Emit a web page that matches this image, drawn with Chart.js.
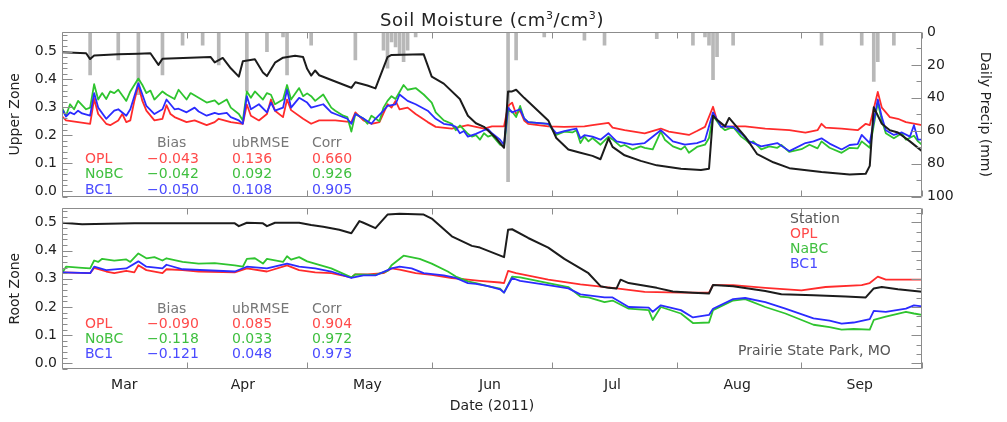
<!DOCTYPE html>
<html>
<head>
<meta charset="utf-8">
<script src="https://cdn.jsdelivr.net/npm/chart.js@4.4.1/dist/chart.umd.min.js"></script>
<style>
  html, body { margin: 0; padding: 0; background: #fff; }
  #wrap { position: relative; width: 1007px; height: 422px; overflow: hidden; font-family: "DejaVu Sans", sans-serif; }
  canvas { position: absolute; left: 0; }
  #cU { top: 0; }
  #cR { top: 195px; }
  .t { position: absolute; font-size: 14px; line-height: 1; white-space: nowrap; transform: translateY(-50%); }
  .hd { color: #777; }
  .opl { color: #ff4a4a; }
  .nobc { color: #3fbf3f; }
  .bc1 { color: #4a4aff; }
  .st { color: #555; }
  #title { position: absolute; left: 62px; width: 860px; top: 9px; text-align: center; font-size: 18px; color: #222; letter-spacing: 0.6px; }
  #title sup { font-size: 11px; }
</style>
</head>
<body>
<div id="wrap">
  <canvas id="cU" width="1007" height="210"></canvas>
  <canvas id="cR" width="1007" height="227"></canvas>
  <div id="title">Soil Moisture (cm<sup>3</sup>/cm<sup>3</sup>)</div>
  <div id="notes"></div>
</div>
<script>
  // eje x: dias desde el 1 de marzo de 2011
  const monthNames = ["Mar", "Apr", "May", "Jun", "Jul", "Aug", "Sep"];
  const monthStarts = [0, 31, 61, 92, 122, 153, 184, 214];
  const monthMids = [15.5, 45, 76, 106.5, 137, 168, 198.5];

  // precipitacion diaria (mm)
  const precipDays = [7, 14, 19, 25, 30, 35, 39, 46, 51, 55, 56, 62, 73, 80, 81, 82, 83, 84, 85, 86, 88, 111, 113, 120, 130, 135, 148, 157, 160, 161, 162, 163, 167, 189, 199, 202, 203, 207];
  const precipMm = [26, 17, 38, 26, 8, 8, 20, 36, 12, 3, 26, 8, 17, 11, 22, 6, 9, 14, 18, 11, 3, 91, 17, 3, 5, 8, 4, 8, 3, 8, 29, 15, 8, 8, 8, 30, 18, 8];

  // zona superior [dia, humedad]
  const stationUpper = [[0,0.497],[6,0.494],[7,0.473],[8,0.486],[14,0.49],[19,0.492],[22,0.494],[24,0.452],[25,0.474],[37,0.48],[38,0.461],[40,0.477],[42,0.44],[44,0.41],[45,0.465],[48,0.472],[50,0.425],[51,0.412],[53,0.46],[55,0.478],[58,0.485],[60,0.48],[61,0.438],[62,0.414],[63,0.432],[64,0.415],[72,0.37],[73,0.39],[76,0.378],[78,0.368],[81,0.48],[82,0.488],[90,0.49],[92,0.41],[95,0.385],[99,0.33],[101,0.27],[103,0.243],[105,0.23],[108,0.19],[110,0.155],[111,0.357],[112,0.357],[113,0.363],[115,0.334],[121,0.253],[123,0.19],[126,0.149],[129,0.137],[132,0.126],[134,0.114],[136,0.189],[137,0.158],[140,0.128],[144,0.108],[148,0.092],[154,0.08],[159,0.075],[161,0.08],[162,0.27],[163,0.255],[165,0.232],[166,0.262],[167,0.245],[170,0.195],[173,0.132],[177,0.103],[181,0.082],[189,0.068],[196,0.059],[200,0.062],[201,0.09],[202,0.3],[204,0.241],[206,0.218],[208,0.21],[211,0.178],[214,0.143]];
  const oplUpper = [[0,0.268],[1,0.253],[7,0.241],[8,0.33],[9,0.276],[11,0.241],[12,0.236],[14,0.253],[15,0.276],[16,0.247],[17,0.253],[18,0.323],[19,0.38],[20,0.323],[21,0.288],[23,0.253],[25,0.259],[26,0.308],[27,0.276],[28,0.265],[31,0.247],[33,0.253],[36,0.236],[38,0.247],[39,0.259],[42,0.247],[45,0.241],[46,0.31],[47,0.27],[49,0.253],[51,0.276],[52,0.328],[53,0.288],[55,0.265],[56,0.328],[57,0.29],[60,0.259],[62,0.241],[64,0.253],[68,0.253],[72,0.247],[73,0.282],[75,0.253],[77,0.241],[79,0.247],[81,0.311],[82,0.299],[83,0.323],[84,0.293],[86,0.299],[88,0.276],[91,0.247],[93,0.23],[97,0.224],[101,0.236],[105,0.224],[107,0.232],[110,0.232],[111,0.305],[112,0.317],[113,0.276],[114,0.288],[115,0.253],[116,0.241],[121,0.232],[125,0.23],[130,0.232],[132,0.236],[136,0.244],[137,0.227],[140,0.218],[145,0.207],[149,0.224],[151,0.213],[156,0.201],[158,0.215],[160,0.23],[162,0.302],[163,0.253],[165,0.23],[167,0.232],[170,0.232],[175,0.224],[181,0.218],[185,0.209],[188,0.218],[189,0.241],[190,0.227],[194,0.224],[198,0.218],[200,0.241],[201,0.236],[203,0.355],[204,0.299],[206,0.265],[208,0.259],[210,0.247],[214,0.236]];
  const nobcUpper = [[0,0.299],[1,0.27],[2,0.311],[3,0.293],[4,0.323],[6,0.293],[7,0.299],[8,0.383],[9,0.328],[10,0.351],[11,0.33],[12,0.357],[13,0.351],[14,0.363],[16,0.323],[17,0.357],[19,0.403],[20,0.38],[21,0.351],[22,0.36],[23,0.328],[25,0.357],[26,0.346],[28,0.33],[29,0.363],[31,0.328],[32,0.351],[34,0.334],[36,0.317],[38,0.325],[39,0.311],[41,0.328],[42,0.299],[44,0.276],[45,0.253],[46,0.357],[47,0.334],[48,0.357],[50,0.328],[51,0.351],[52,0.345],[53,0.311],[55,0.328],[56,0.38],[57,0.328],[59,0.369],[60,0.34],[61,0.35],[62,0.34],[63,0.323],[65,0.346],[67,0.299],[68,0.288],[70,0.27],[71,0.265],[72,0.213],[73,0.276],[75,0.26],[76,0.241],[77,0.27],[79,0.25],[80,0.299],[81,0.323],[82,0.34],[83,0.33],[85,0.38],[86,0.363],[88,0.369],[90,0.346],[92,0.317],[93,0.282],[95,0.253],[97,0.241],[98,0.218],[99,0.235],[101,0.205],[102,0.195],[103,0.2],[104,0.184],[105,0.207],[106,0.195],[107,0.2],[109,0.166],[110,0.16],[111,0.288],[112,0.285],[113,0.265],[114,0.305],[115,0.259],[116,0.247],[121,0.241],[123,0.201],[125,0.213],[127,0.21],[128,0.218],[129,0.172],[130,0.195],[131,0.178],[132,0.19],[134,0.166],[136,0.195],[137,0.185],[139,0.16],[140,0.165],[142,0.149],[144,0.16],[145,0.155],[147,0.149],[149,0.213],[150,0.184],[152,0.16],[154,0.149],[155,0.16],[156,0.137],[158,0.158],[160,0.166],[161,0.19],[162,0.27],[164,0.23],[165,0.218],[167,0.23],[169,0.195],[170,0.185],[171,0.172],[172,0.178],[174,0.149],[176,0.16],[178,0.155],[179,0.165],[181,0.14],[184,0.15],[186,0.166],[188,0.153],[189,0.178],[191,0.155],[194,0.137],[196,0.155],[198,0.153],[199,0.178],[201,0.155],[203,0.317],[204,0.253],[205,0.207],[207,0.189],[209,0.207],[210,0.184],[212,0.198],[213,0.178],[214,0.166]];
  const bc1Upper = [[0,0.293],[1,0.267],[2,0.282],[3,0.275],[4,0.288],[5,0.278],[7,0.27],[8,0.351],[9,0.299],[11,0.259],[13,0.288],[14,0.293],[16,0.27],[17,0.293],[19,0.386],[20,0.346],[21,0.305],[23,0.276],[25,0.293],[26,0.328],[28,0.293],[29,0.295],[31,0.282],[33,0.299],[34,0.285],[36,0.27],[38,0.28],[39,0.276],[41,0.28],[42,0.265],[44,0.253],[45,0.241],[46,0.34],[47,0.293],[49,0.311],[51,0.282],[52,0.317],[53,0.288],[55,0.299],[56,0.363],[57,0.299],[59,0.334],[61,0.317],[62,0.299],[65,0.311],[67,0.282],[68,0.276],[71,0.259],[72,0.241],[73,0.276],[75,0.26],[77,0.241],[78,0.259],[80,0.288],[81,0.305],[83,0.311],[84,0.346],[86,0.323],[88,0.311],[91,0.288],[93,0.259],[95,0.241],[97,0.236],[98,0.23],[99,0.207],[100,0.215],[101,0.195],[103,0.205],[105,0.218],[106,0.222],[107,0.207],[109,0.184],[110,0.166],[111,0.299],[112,0.282],[114,0.293],[115,0.26],[116,0.247],[121,0.241],[123,0.207],[125,0.215],[128,0.224],[129,0.189],[130,0.2],[132,0.195],[134,0.184],[136,0.207],[138,0.178],[142,0.166],[145,0.172],[149,0.218],[152,0.178],[155,0.166],[158,0.172],[160,0.182],[162,0.282],[164,0.23],[165,0.232],[167,0.23],[169,0.207],[171,0.178],[174,0.16],[178,0.172],[181,0.143],[185,0.172],[187,0.178],[189,0.189],[191,0.17],[194,0.149],[196,0.165],[198,0.168],[199,0.201],[201,0.172],[203,0.328],[204,0.265],[205,0.218],[207,0.201],[209,0.21],[211,0.195],[212,0.236],[213,0.184],[214,0.184]];

  // zona de raices [dia, humedad]
  const stationRoot = [[0,0.499],[5,0.494],[18,0.497],[33,0.497],[43,0.497],[44,0.487],[46,0.499],[50,0.497],[51,0.487],[53,0.499],[59,0.499],[62,0.491],[65,0.485],[69,0.474],[72,0.462],[74,0.505],[75,0.499],[78,0.48],[81,0.528],[84,0.531],[90,0.528],[92,0.514],[97,0.451],[102,0.417],[104,0.411],[110,0.377],[111,0.474],[112,0.476],[116,0.445],[121,0.411],[125,0.371],[129,0.337],[131,0.32],[134,0.274],[136,0.268],[138,0.266],[139,0.297],[141,0.285],[148,0.268],[152,0.255],[157,0.251],[161,0.248],[162,0.278],[167,0.274],[175,0.257],[179,0.245],[187,0.242],[195,0.237],[200,0.234],[202,0.266],[204,0.271],[208,0.263],[214,0.254]];
  const oplRoot = [[0,0.323],[7,0.32],[8,0.339],[11,0.326],[13,0.32],[16,0.328],[18,0.323],[19,0.348],[21,0.331],[25,0.32],[26,0.334],[30,0.331],[34,0.326],[43,0.323],[46,0.337],[51,0.326],[56,0.348],[59,0.331],[63,0.323],[67,0.32],[72,0.305],[73,0.316],[76,0.316],[80,0.32],[82,0.337],[84,0.333],[88,0.32],[92,0.314],[97,0.303],[101,0.297],[104,0.293],[109,0.287],[110,0.285],[111,0.328],[113,0.32],[121,0.297],[129,0.28],[137,0.268],[145,0.254],[154,0.251],[161,0.251],[162,0.278],[167,0.278],[175,0.268],[184,0.259],[190,0.271],[199,0.278],[201,0.285],[203,0.308],[205,0.297],[214,0.297]];
  const nobcRoot = [[0,0.32],[1,0.343],[5,0.339],[7,0.337],[8,0.365],[9,0.36],[10,0.371],[13,0.365],[16,0.369],[17,0.36],[19,0.39],[21,0.373],[23,0.377],[25,0.365],[26,0.373],[30,0.36],[34,0.354],[38,0.356],[43,0.348],[45,0.343],[46,0.371],[48,0.373],[50,0.354],[51,0.371],[55,0.36],[56,0.38],[57,0.368],[59,0.377],[61,0.362],[67,0.337],[72,0.305],[73,0.316],[78,0.314],[81,0.328],[82,0.348],[85,0.382],[89,0.371],[92,0.354],[96,0.326],[98,0.308],[101,0.291],[103,0.285],[106,0.274],[109,0.265],[110,0.251],[112,0.308],[114,0.305],[121,0.285],[126,0.271],[129,0.237],[131,0.234],[135,0.217],[137,0.223],[141,0.194],[146,0.189],[147,0.154],[149,0.2],[154,0.177],[157,0.143],[161,0.145],[162,0.189],[167,0.223],[170,0.228],[175,0.2],[180,0.177],[187,0.137],[191,0.129],[194,0.12],[197,0.122],[201,0.12],[202,0.154],[205,0.166],[210,0.183],[212,0.177],[214,0.172]];
  const bc1Root = [[0,0.323],[7,0.32],[8,0.343],[11,0.331],[16,0.337],[19,0.362],[21,0.343],[25,0.337],[26,0.35],[30,0.334],[43,0.326],[46,0.343],[51,0.337],[56,0.354],[59,0.343],[63,0.337],[67,0.326],[72,0.303],[75,0.312],[78,0.312],[82,0.337],[84,0.343],[87,0.337],[90,0.32],[95,0.312],[98,0.303],[101,0.285],[103,0.282],[106,0.274],[109,0.263],[110,0.251],[112,0.303],[114,0.293],[121,0.278],[126,0.266],[129,0.245],[135,0.234],[137,0.234],[141,0.2],[146,0.198],[147,0.183],[149,0.206],[154,0.189],[157,0.163],[161,0.172],[162,0.194],[167,0.228],[170,0.232],[175,0.217],[180,0.194],[187,0.16],[191,0.152],[194,0.141],[197,0.145],[201,0.157],[202,0.186],[205,0.183],[210,0.194],[212,0.206],[214,0.202]];

  // estadisticas: Bias, ubRMSE, Corr
  const rowNames = ["OPL", "NoBC", "BC1"];
  const statsUpper = [["\u22120.043", "0.136", "0.660"], ["\u22120.042", "0.092", "0.926"], ["\u22120.050", "0.108", "0.905"]];
  const statsRoot = [["\u22120.090", "0.085", "0.904"], ["\u22120.118", "0.033", "0.972"], ["\u22120.121", "0.048", "0.973"]];
  const legendNames = ["Station", "OPL", "NaBC", "BC1"];

  const BLACK = "#1c1c1c", RED = "#ff2b2b", GREEN = "#2fc42f", BLUE = "#2b2bff";
  const AXIS = "#8c8c8c";
  const FONT = { family: "DejaVu Sans", size: 14 };

  const xy = arr => arr.map(([x, y]) => ({ x, y }));

  // marco y marcas hacia dentro, estilo IDL
  const frameTicks = {
    id: "frameTicks",
    afterDraw(chart, args, o) {
      const { ctx, chartArea: a, scales } = chart;
      const L = Math.round(a.left) + 0.5, R = Math.round(a.right) - 0.5;
      const T = Math.round(a.top) + 0.5, B = Math.round(a.bottom) - 0.5;
      ctx.save();
      ctx.strokeStyle = AXIS;
      ctx.lineWidth = 1;
      ctx.beginPath();
      ctx.rect(L, T, R - L, B - T);
      monthStarts.forEach(v => {
        const px = Math.round(scales.x.getPixelForValue(v)) + 0.5;
        ctx.moveTo(px, T); ctx.lineTo(px, T + 6);
        ctx.moveTo(px, B); ctx.lineTo(px, B - 6);
      });
      [["left", L, 1], ["right", R, -1]].forEach(([side, x0, dir]) => {
        const s = o[side];
        if (!s) return;
        const sc = scales[s.scale];
        const n0 = Math.ceil(sc.min / s.minor - 1e-6), n1 = Math.floor(sc.max / s.minor + 1e-6);
        for (let k = n0; k <= n1; k++) {
          const v = k * s.minor;
          const r = v / s.major;
          const major = Math.abs(r - Math.round(r)) < 1e-6;
          const py = Math.round(sc.getPixelForValue(v)) + 0.5;
          ctx.moveTo(x0, py);
          ctx.lineTo(x0 + dir * (major ? 10 : 5), py);
        }
      });
      ctx.stroke();
      ctx.restore();
    }
  };

  function lineSet(label, data, color, order, width) {
    return {
      label, data: xy(data), yAxisID: "y", borderColor: color, backgroundColor: color,
      borderWidth: width, pointRadius: 0, tension: 0, borderJoinStyle: "round", order
    };
  }

  function leftAxis(min, max, title) {
    return {
      position: "left", min, max,
      grid: { display: false, drawTicks: false }, border: { display: false },
      ticks: { stepSize: 0.1, includeBounds: false, padding: 5, color: "#222", font: FONT, callback: v => v.toFixed(1) },
      title: { display: true, text: title, color: "#222", font: FONT, padding: { top: 7, bottom: 0 } },
      afterFit(s) { s.width = 62; }
    };
  }

  new Chart(document.getElementById("cU"), {
    type: "line",
    data: {
      datasets: [
        lineSet("Station", stationUpper, BLACK, 1, 2),
        lineSet("BC1", bc1Upper, BLUE, 2, 1.8),
        lineSet("NoBC", nobcUpper, GREEN, 3, 1.8),
        lineSet("OPL", oplUpper, RED, 4, 1.8),
        {
          type: "bar", label: "Precip", yAxisID: "yP", order: 10,
          data: precipDays.map((d, i) => ({ x: d, y: precipMm[i] })),
          backgroundColor: "#b8b8b8", barThickness: 3
        }
      ]
    },
    options: {
      responsive: false, animation: false,
      layout: { padding: { top: 32, left: 0, right: 0, bottom: 0 }, autoPadding: false },
      plugins: {
        legend: { display: false }, tooltip: { enabled: false },
        frameTicks: { left: { scale: "y", minor: 0.02, major: 0.1 }, right: { scale: "yP", minor: 10, major: 20 } }
      },
      scales: {
        x: {
          type: "linear", min: 0, max: 214, offset: false,
          grid: { display: false, drawTicks: false }, border: { display: false },
          ticks: { display: false },
          afterFit(s) { s.height = 8; }
        },
        y: leftAxis(-0.02, 0.57, "Upper Zone"),
        yP: {
          position: "right", reverse: true, min: 0, max: 100,
          grid: { display: false, drawTicks: false }, border: { display: false },
          ticks: { stepSize: 20, padding: 5, color: "#222", font: FONT },
          title: { display: true, text: "Daily Precip (mm)", color: "#222", font: FONT, padding: { top: 14, bottom: 0 } },
          afterFit(s) { s.width = 85; }
        }
      }
    },
    plugins: [frameTicks]
  });

  new Chart(document.getElementById("cR"), {
    type: "line",
    data: {
      datasets: [
        lineSet("Station", stationRoot, BLACK, 1, 2),
        lineSet("BC1", bc1Root, BLUE, 2, 1.8),
        lineSet("NoBC", nobcRoot, GREEN, 3, 1.8),
        lineSet("OPL", oplRoot, RED, 4, 1.8)
      ]
    },
    options: {
      responsive: false, animation: false,
      layout: { padding: { top: 7, left: 0, right: 85, bottom: 0 }, autoPadding: false },
      plugins: {
        legend: { display: false }, tooltip: { enabled: false },
        frameTicks: { left: { scale: "y", minor: 0.02, major: 0.1 }, right: { scale: "y", minor: 0.1 / 3, major: 0.1 } }
      },
      scales: {
        x: {
          type: "linear", min: 0, max: 214, offset: false,
          grid: { display: false, drawTicks: false }, border: { display: false },
          afterBuildTicks(s) { s.ticks = monthMids.map(v => ({ value: v })); },
          ticks: { autoSkip: false, maxRotation: 0, padding: 8, color: "#222", font: FONT, callback: (v, i) => monthNames[i] },
          title: { display: true, text: "Date (2011)", color: "#222", font: FONT, padding: { top: 0, bottom: 7 } },
          afterFit(s) { s.height = 53; }
        },
        y: leftAxis(-0.02, 0.55, "Root Zone")
      }
    },
    plugins: [frameTicks]
  });

  // textos dentro de los paneles
  const notes = document.getElementById("notes");
  function note(text, cls, x, y) {
    const d = document.createElement("div");
    d.className = "t " + cls;
    d.style.left = x + "px";
    d.style.top = y + "px";
    d.textContent = text;
    notes.appendChild(d);
  }
  const rowCls = ["opl", "nobc", "bc1"];
  function statsBlock(stats, yHead, dy) {
    note("Bias", "hd", 157, yHead);
    note("ubRMSE", "hd", 232, yHead);
    note("Corr", "hd", 312, yHead);
    stats.forEach((row, i) => {
      const y = yHead + dy * (i + 1);
      note(rowNames[i], rowCls[i], 85, y);
      note(row[0], rowCls[i], 147, y);
      note(row[1], rowCls[i], 232, y);
      note(row[2], rowCls[i], 312, y);
    });
  }
  statsBlock(statsUpper, 142, 15.5);
  statsBlock(statsRoot, 308, 15);
  const legCls = ["st", "opl", "nobc", "bc1"];
  legendNames.forEach((n, i) => note(n, legCls[i], 790, 218 + 15 * i));
  note("Prairie State Park, MO", "st", 738, 350);
</script>
</body>
</html>
